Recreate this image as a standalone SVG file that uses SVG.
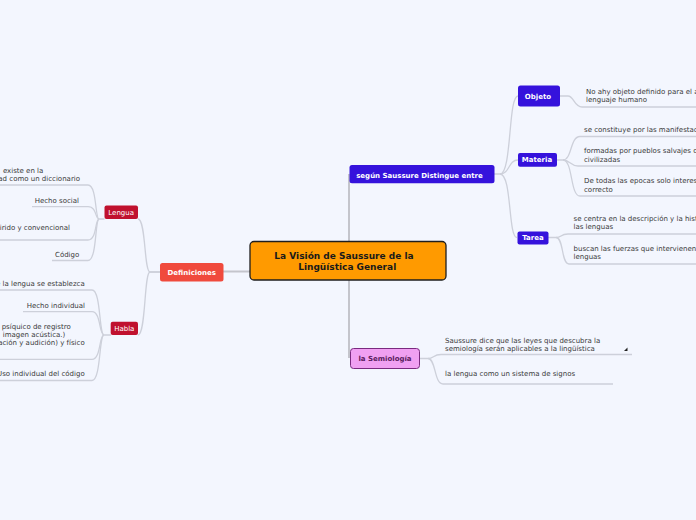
<svg xmlns="http://www.w3.org/2000/svg" width="696" height="520" viewBox="0 0 696 520">
<style>
.t{font-family:"DejaVu Sans",Verdana,sans-serif;font-size:7px;fill:#3a3a3a}
.nb{font-family:"DejaVu Sans",Verdana,sans-serif;font-size:7px;font-weight:bold;fill:#ffffff;text-anchor:middle}
.nr{font-family:"DejaVu Sans",Verdana,sans-serif;font-size:7px;fill:#ffffff;text-anchor:middle}
.e{text-anchor:end}
.c{fill:none;stroke:#cdd0da;stroke-width:1.3}
.m{fill:none;stroke:#c4c5cc;stroke-width:2}
.blue{fill:#3512dc}
.red{fill:#c0112e}
</style>
<rect width="696" height="520" fill="#f3f6fe"/>
<g id="connectors">
<path class="m" d="M349,174 L349,358"/>
<path class="m" d="M223,271.5 L251,271.5"/>
<path class="c" d="M160,272 L150,272 C144,272 146,219 138,219"/>
<path class="c" d="M160,272 L150,272 C144,272 146,335 138,335"/>
<path class="c" d="M104.5,219 L99,219 C95,219 97,185 88,185 L-2,185"/>
<path class="c" d="M99,219 C95,219 97,206.7 88,206.7 L32,206.7"/>
<path class="c" d="M99,219 C95,219 97,240 88,240 L-2,240"/>
<path class="c" d="M99,219 C95,219 97,260.5 88,260.5 L52,260.5"/>
<path class="c" d="M111,335 L104,335 C99,335 101,290 92,290 L-2,290"/>
<path class="c" d="M104,335 C99,335 101,311.7 92,311.7 L23,311.7"/>
<path class="c" d="M104,335 C99,335 101,359.3 92,359.3 L-2,359.3"/>
<path class="c" d="M104,335 C99,335 101,380.5 92,380.5 L-2,380.5"/>
<path class="c" d="M494,174 L500,174 C512,174 508,96 518,96"/>
<path class="c" d="M500,174 C510,174 508,160 518,160"/>
<path class="c" d="M500,174 C512,174 508,237.5 517,237.5"/>
<path class="c" d="M560,96 L568,96 C574,96 574,107 582,107 L698,107"/>
<path class="c" d="M557,160 L563,160 C572,160 570,136.5 580,136.5 L698,136.5"/>
<path class="c" d="M563,160 C570,160 570,166 578,166 L698,166"/>
<path class="c" d="M563,160 C573,160 570,196 580,196 L698,196"/>
<path class="c" d="M548,237.5 L556,237.5 C562,237.5 560,234 568,234 L698,234"/>
<path class="c" d="M556,237.5 C564,237.5 561,264 569,264 L698,264"/>
<path class="c" d="M420,358.5 L428,358.5 C434,358.5 433,354.5 441,354.5 L632,354.5"/>
<path class="c" d="M428,358.5 C436,358.5 434,384 443,384 L613,384"/>
</g>
<g id="central">
<rect x="250" y="241.5" width="196" height="38.5" rx="4" fill="#ff9a00" stroke="#1e1e1e" stroke-width="1.3"/>
<text x="344" y="259" font-family="DejaVu Sans,Verdana,sans-serif" font-size="9" font-weight="bold" fill="#1a1a1a" text-anchor="middle">La Visión de Saussure de la</text>
<text x="347.2" y="270" font-family="DejaVu Sans,Verdana,sans-serif" font-size="9" font-weight="bold" fill="#1a1a1a" text-anchor="middle">Lingüística General</text>
</g>
<g id="saussure">
<rect class="blue" x="349.5" y="165" width="145" height="18.3" rx="2.5"/>
<text class="nb" x="419.5" y="177.5">según Saussure Distingue entre</text>
</g>
<g id="objeto">
<rect class="blue" x="518" y="85.5" width="42" height="21" rx="2.5"/>
<text class="nb" x="538" y="98.5">Objeto</text>
</g>
<g id="objeto-1">
<text class="t" x="586" y="94.2">No ahy objeto definido para el a</text>
<text class="t" x="586" y="101.8">lenguaje humano</text>
</g>
<g id="materia">
<rect class="blue" x="518" y="153" width="39" height="13.7" rx="2"/>
<text class="nb" x="537" y="162">Materia</text>
</g>
<g id="materia-1">
<text class="t" x="584" y="132.2">se constituye por las manifestaciones</text>
</g>
<g id="materia-2">
<text class="t" x="584" y="153.2">formadas por pueblos salvajes o</text>
<text class="t" x="584" y="162.2">civilizadas</text>
</g>
<g id="materia-3">
<text class="t" x="584" y="182.8">De todas las epocas solo interesa</text>
<text class="t" x="584" y="191.8">correcto</text>
</g>
<g id="tarea">
<rect class="blue" x="517.5" y="231.5" width="31" height="13" rx="2"/>
<text class="nb" x="533" y="240">Tarea</text>
</g>
<g id="tarea-1">
<text class="t" x="573.5" y="220.8">se centra en la descripción y la historia</text>
<text class="t" x="573.5" y="229.2">las lenguas</text>
</g>
<g id="tarea-2">
<text class="t" x="573.5" y="250.8">buscan las fuerzas que intervienen</text>
<text class="t" x="573.5" y="259.2">lenguas</text>
</g>
<g id="semiologia">
<rect x="350.5" y="348.5" width="69" height="20" rx="3" fill="#f0a0f2" stroke="#7a2a80" stroke-width="1"/>
<text x="385" y="361" font-family="DejaVu Sans,Verdana,sans-serif" font-size="7" font-weight="bold" fill="#5a1c60" text-anchor="middle">la Semiología</text>
</g>
<g id="semiologia-1">
<text class="t" x="445" y="342.5">Saussure dice que las leyes que descubra la</text>
<text class="t" x="445" y="350.8">semiología serán aplicables a la lingüística</text>
<polygon points="624,351 627.5,351 627.5,347.5" fill="#222"/>
</g>
<g id="semiologia-2">
<text class="t" x="445" y="375.8">la lengua como un sistema de signos</text>
</g>
<g id="definiciones">
<rect x="160" y="263" width="63.5" height="18.5" rx="2.5" fill="#f04a3d"/>
<text class="nb" x="191.7" y="274.7">Definiciones</text>
</g>
<g id="lengua">
<rect class="red" x="104.5" y="205.5" width="33.5" height="13.5" rx="2"/>
<text class="nr" x="121.2" y="214.8">Lengua</text>
</g>
<g id="lengua-1">
<text class="t e" x="43.3" y="172.5">existe en la</text>
<text class="t e" x="80" y="180.8">colectividad como un diccionario</text>
</g>
<g id="lengua-2">
<text class="t e" x="79" y="203.2">Hecho social</text>
</g>
<g id="lengua-3">
<text class="t e" x="70" y="230.2">adquirido y convencional</text>
</g>
<g id="lengua-4">
<text class="t e" x="79.3" y="256.8">Código</text>
</g>
<g id="habla">
<rect class="red" x="110.7" y="321.7" width="27.3" height="13.3" rx="2"/>
<text class="nr" x="124.3" y="330.8">Habla</text>
</g>
<g id="habla-1">
<text class="t e" x="84.7" y="285.8">que la lengua se establezca</text>
</g>
<g id="habla-2">
<text class="t e" x="85" y="307.5">Hecho individual</text>
</g>
<g id="habla-3">
<text class="t e" x="70.7" y="328.5">psíquico de registro</text>
<text class="t e" x="65.3" y="336.8">imagen acústica.)</text>
<text class="t e" x="84.7" y="345.2">fonación y audición) y físico</text>
</g>
<g id="habla-4">
<text class="t e" x="84.7" y="375.8">Uso individual del código</text>
</g>
</svg>
